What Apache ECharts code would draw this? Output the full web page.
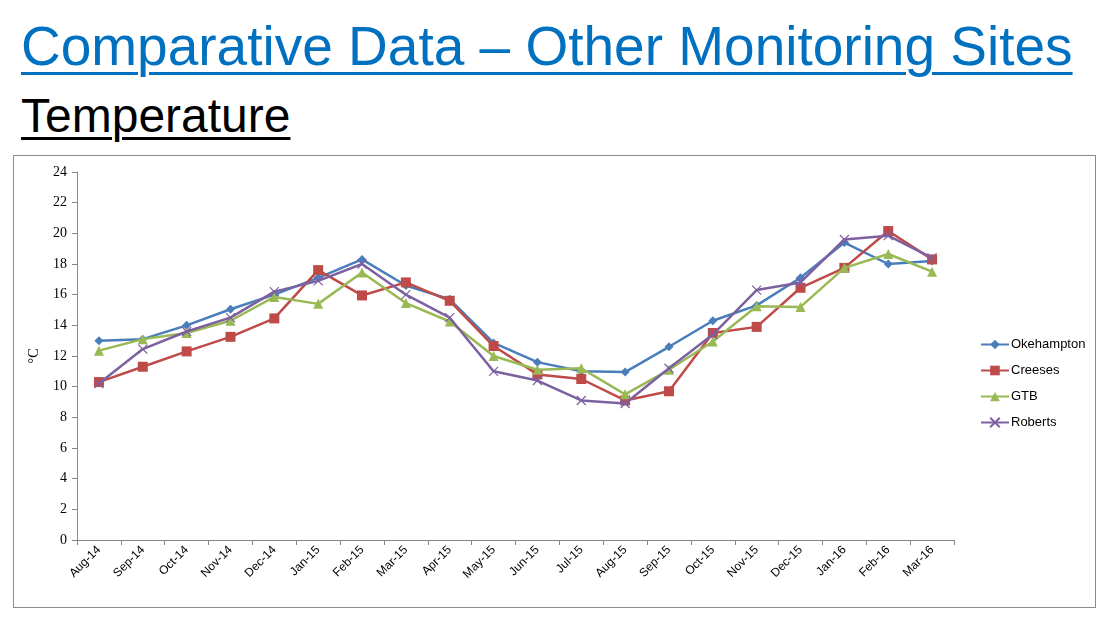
<!DOCTYPE html>
<html>
<head>
<meta charset="utf-8">
<script src="https://cdn.jsdelivr.net/npm/echarts@6/dist/echarts.min.js"></script>
<style>
  html, body { margin: 0; padding: 0; background: #ffffff; width: 1118px; height: 624px; overflow: hidden; }
  .h1 { position: absolute; left: 21px; top: 19px; font-family: "Liberation Sans", Arial, sans-serif; font-size: 55px; line-height: 55px; color: #0070C0; text-decoration: underline; text-decoration-thickness: 3px; text-underline-offset: 7px; white-space: nowrap; }
  .h2 { position: absolute; left: 21px; top: 92px; font-family: "Liberation Sans", Arial, sans-serif; font-size: 48px; line-height: 48px; color: #000000; text-decoration: underline; text-decoration-thickness: 3px; text-underline-offset: 5px; white-space: nowrap; }
  #chart { position: absolute; left: 13px; top: 155px; width: 1081px; height: 451px; border: 1px solid #8c8c8c; }
</style>
</head>
<body>
<div class="h1">Comparative Data – Other Monitoring Sites</div>
<div class="h2">Temperature</div>
<div id="chart"></div>
<script>
const months = ['Aug-14','Sep-14','Oct-14','Nov-14','Dec-14','Jan-15','Feb-15','Mar-15','Apr-15','May-15','Jun-15','Jul-15','Aug-15','Sep-15','Oct-15','Nov-15','Dec-15','Jan-16','Feb-16','Mar-16'];
const okehampton = [13.0,13.1,14.0,15.05,16.0,17.1,18.3,16.6,15.7,12.85,11.6,11.0,10.95,12.6,14.3,15.3,17.1,19.4,18.0,18.2];
const creeses = [10.3,11.3,12.3,13.25,14.45,17.6,15.95,16.8,15.6,12.65,10.8,10.5,9.1,9.7,13.5,13.9,16.45,17.75,20.15,18.3];
const gtb = [12.35,13.1,13.5,14.3,15.85,15.4,17.45,15.45,14.25,12.0,11.1,11.2,9.5,11.1,12.95,15.25,15.2,17.75,18.65,17.5];
const roberts = [10.2,12.45,13.6,14.5,16.2,16.9,18.0,16.0,14.5,11.0,10.4,9.1,8.9,11.2,13.4,16.3,16.8,19.6,19.85,18.4];
const seriesNames = ['Okehampton','Creeses','GTB','Roberts'];
const yTicks = [0,2,4,6,8,10,12,14,16,18,20,22,24];

const colors = ['#4A7EBB','#BE4B48','#98B954','#7D60A0'];
const symbols = ['diamond','rect','triangle','path://M0,0L10,10M10,0L0,10'];
const sizes = [9, 10, 10, 9];
const dataSets = [okehampton, creeses, gtb, roberts];

const chart = echarts.init(document.getElementById('chart'), null, {renderer: 'canvas'});
chart.setOption({
  animation: false,
  backgroundColor: '#ffffff',
  grid: { left: 63, top: 16, width: 877, height: 368, containLabel: false },
  legend: {
    orient: 'vertical',
    left: 961,
    top: 177,
    itemWidth: 28,
    itemHeight: 12,
    itemGap: 13,
    data: seriesNames,
    textStyle: { fontFamily: '"Liberation Sans", Arial, sans-serif', fontSize: 13, color: '#000', padding: [0,0,0,-3] }
  },
  xAxis: {
    type: 'category',
    data: months,
    boundaryGap: true,
    axisLine: { lineStyle: { color: '#868686', width: 1 } },
    axisTick: { show: true, length: 5, lineStyle: { color: '#868686' } },
    axisLabel: { rotate: 45, margin: 8, fontFamily: '"Liberation Sans", Arial, sans-serif', fontSize: 12, color: '#000', interval: 0 },
    splitLine: { show: false }
  },
  yAxis: {
    type: 'value',
    min: 0, max: 24, interval: 2,
    name: '°C',
    nameLocation: 'middle',
    nameGap: 36,
    nameRotate: 90,
    nameTextStyle: { fontFamily: '"Liberation Serif", serif', fontSize: 14, color: '#000' },
    axisLine: { show: true, lineStyle: { color: '#868686', width: 1 } },
    axisTick: { show: true, length: 5, lineStyle: { color: '#868686' } },
    axisLabel: { margin: 10, fontFamily: '"Liberation Serif", serif', fontSize: 14, color: '#000',
      formatter: function (v) { return yTicks.indexOf(v) >= 0 ? String(v) : ''; } },
    splitLine: { show: false }
  },
  series: seriesNames.map(function (name, i) {
    return {
      name: name,
      type: 'line',
      data: dataSets[i],
      symbol: symbols[i],
      symbolSize: sizes[i],
      showAllSymbol: true,
      lineStyle: { color: colors[i], width: 2.5 },
      itemStyle: { color: colors[i], borderColor: colors[i], borderWidth: i === 3 ? 1.2 : 0 },
      emphasis: { disabled: true },
      z: 2 + i
    };
  })
});
</script>
</body>
</html>
